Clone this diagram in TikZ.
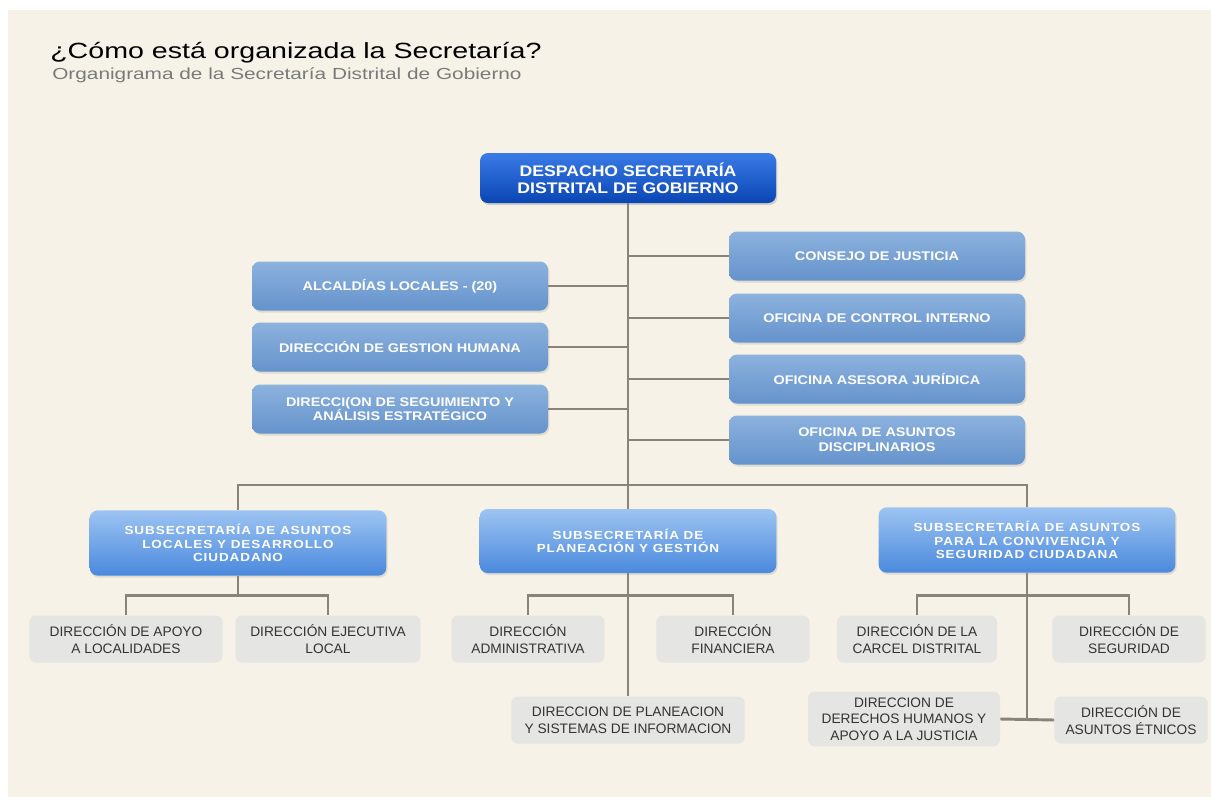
\documentclass[tikz,border=0pt]{standalone}
\usepackage{fontspec}
\usepackage{xcolor}
\usetikzlibrary{shadows}
\setmainfont{Liberation Sans}
\newfontfamily\titlefont{Liberation Sans}[FakeStretch=1.3]
\newfontfamily\boxfont{Liberation Sans}[FakeStretch=1.15]
\newfontfamily\subfont{Liberation Sans}[FakeStretch=1.15,LetterSpace=8]
\definecolor{pagebg}{HTML}{F6F2E7}
\definecolor{linecolor}{HTML}{8A8378}
\definecolor{topblueA}{HTML}{3A7BE6}
\definecolor{topblueB}{HTML}{0A45B4}
\definecolor{midblueA}{HTML}{8CB2DE}
\definecolor{midblueB}{HTML}{6593CC}
\definecolor{subblueA}{HTML}{9DC4F2}
\definecolor{subblueB}{HTML}{4A89DD}
\definecolor{greybox}{HTML}{E5E5E4}
\definecolor{greytext}{HTML}{333333}
\definecolor{subtitlegray}{HTML}{7A7A7A}

\tikzset{
	topbox/.style={rounded corners=6pt,top color=topblueA,bottom color=topblueB,
		minimum width=222pt,minimum height=37.5pt,align=center,inner sep=0pt,
		text=white,font=\boxfont\bfseries\fontsize{11.5}{13}\selectfont,
		drop shadow={opacity=0.3,shadow xshift=1pt,shadow yshift=-1.5pt}},
	midbox/.style={rounded corners=6pt,top color=midblueA,bottom color=midblueB,
		minimum width=222pt,minimum height=36.75pt,align=center,inner sep=0pt,
		text=white,font=\boxfont\bfseries\fontsize{9.4}{11}\selectfont,
		drop shadow={opacity=0.2,shadow xshift=1pt,shadow yshift=-1.5pt}},
	subbox/.style={rounded corners=6pt,top color=subblueA,bottom color=subblueB,
		minimum width=222.5pt,minimum height=49pt,align=center,inner sep=0pt,
		text=white,font=\subfont\bfseries\fontsize{8.8}{10}\selectfont,
		drop shadow={opacity=0.2,shadow xshift=1pt,shadow yshift=-1.5pt}},
	greynode/.style={rounded corners=5pt,fill=greybox,align=center,inner sep=0pt,
		minimum height=35.25pt,text=greytext,font=\fontsize{10.3}{12.5}\selectfont},
	link/.style={draw=linecolor,line width=2.2pt}
}

\begin{document}
\begin{tikzpicture}[x=0.75pt,y=-0.75pt]

\useasboundingbox (0,0) rectangle (1211,797);
\fill[white] (0,0) rectangle (1211,797);
\fill[pagebg] (8,10) rectangle (1211,797);

% heading
\node [anchor=base west,inner sep=0pt] (title) at (50,58)
	{\titlefont\fontsize{16.5}{16}\selectfont ¿Cómo está organizada la Secretaría?};
\node [anchor=base west,inner sep=0pt,text=subtitlegray] (subtitle) at (52,79)
	{\titlefont\fontsize{12}{12}\selectfont Organigrama de la Secretaría Distrital de Gobierno};

% head office
\node [topbox] (despacho) at (628,178) {DESPACHO SECRETARÍA\\DISTRITAL DE GOBIERNO};

% right column
\node [midbox] (consejo) at (877,256) {CONSEJO DE JUSTICIA};
\node [midbox] (control) at (877,318) {OFICINA DE CONTROL INTERNO};
\node [midbox] (asesora) at (877,379) {OFICINA ASESORA JURÍDICA};
\node [midbox] (disciplina) at (877,440) {OFICINA DE ASUNTOS\\DISCIPLINARIOS};

% left column
\node [midbox] (alcaldias) at (400,286) {ALCALDÍAS LOCALES - (20)};
\node [midbox] (humana) at (400,347) {DIRECCIÓN DE GESTION HUMANA};
\node [midbox] (seguimiento) at (400,409) {DIRECCI(ON DE SEGUIMIENTO Y\\ANÁLISIS ESTRATÉGICO};

% subsecretarias
\node [subbox] (sublocal) at (238,543) {SUBSECRETARÍA DE ASUNTOS\\LOCALES Y DESARROLLO\\CIUDADANO};
\node [subbox,minimum height=48pt] (subplan) at (628,541) {SUBSECRETARÍA DE\\PLANEACIÓN Y GESTIÓN};
\node [subbox] (subconv) at (1027,540) {SUBSECRETARÍA DE ASUNTOS\\PARA LA CONVIVENCIA Y\\SEGURIDAD CIUDADANA};

% direcciones
\node [greynode,minimum width=145pt] (apoyo) at (126,639) {DIRECCIÓN DE APOYO\\A LOCALIDADES};
\node [greynode,minimum width=139pt] (ejecutiva) at (328,639) {DIRECCIÓN EJECUTIVA\\LOCAL};
\node [greynode,minimum width=115pt] (admin) at (528,639) {DIRECCIÓN\\ADMINISTRATIVA};
\node [greynode,minimum width=115pt] (financiera) at (733,639) {DIRECCIÓN\\FINANCIERA};
\node [greynode,minimum width=175pt] (planeacion) at (628,720) {DIRECCION DE PLANEACION\\Y SISTEMAS DE INFORMACION};
\node [greynode,minimum width=120pt] (carcel) at (917,639) {DIRECCIÓN DE LA\\CARCEL DISTRITAL};
\node [greynode,minimum width=115pt] (seguridad) at (1129,639) {DIRECCIÓN DE\\SEGURIDAD};
\node [greynode,minimum width=144pt,minimum height=41pt] (ddhh) at (904,719) {DIRECCION DE\\DERECHOS HUMANOS Y\\APOYO A LA JUSTICIA};
\node [greynode,minimum width=115pt] (etnicos) at (1131,720) {DIRECCIÓN DE\\ASUNTOS ÉTNICOS};

% connectors
\coordinate (bus) at (628,485);
\draw [link] (despacho.south) -- (bus);
\foreach \n in {consejo,control,asesora,disciplina}
	\draw [link] (\n.west) -- (\n.west -| despacho.south);
\foreach \n in {alcaldias,humana,seguimiento}
	\draw [link] (\n.east) -- (\n.east -| despacho.south);
\draw [link] (sublocal.north) |- (bus) -| (subconv.north);
\draw [link] (bus) -- (subplan.north);

\draw [link] (sublocal.south) -- ++(0,20) coordinate (lowA);
\draw [link] (apoyo.north) |- (lowA) -| (ejecutiva.north);

\draw [link] (subplan.south) -- (subplan.south |- planeacion.north);
\coordinate (lowB) at ([yshift=-16.5pt]subplan.south);
\draw [link] (admin.north) |- (lowB) -| (financiera.north);

\draw [link] (subconv.south) -- (subconv.south |- ddhh.east);
\coordinate (lowC) at ([yshift=-17pt]subconv.south);
\draw [link] (carcel.north) |- (lowC) -| (seguridad.north);
\draw [link] (ddhh.east) -- (etnicos.west);

\end{tikzpicture}
\end{document}
